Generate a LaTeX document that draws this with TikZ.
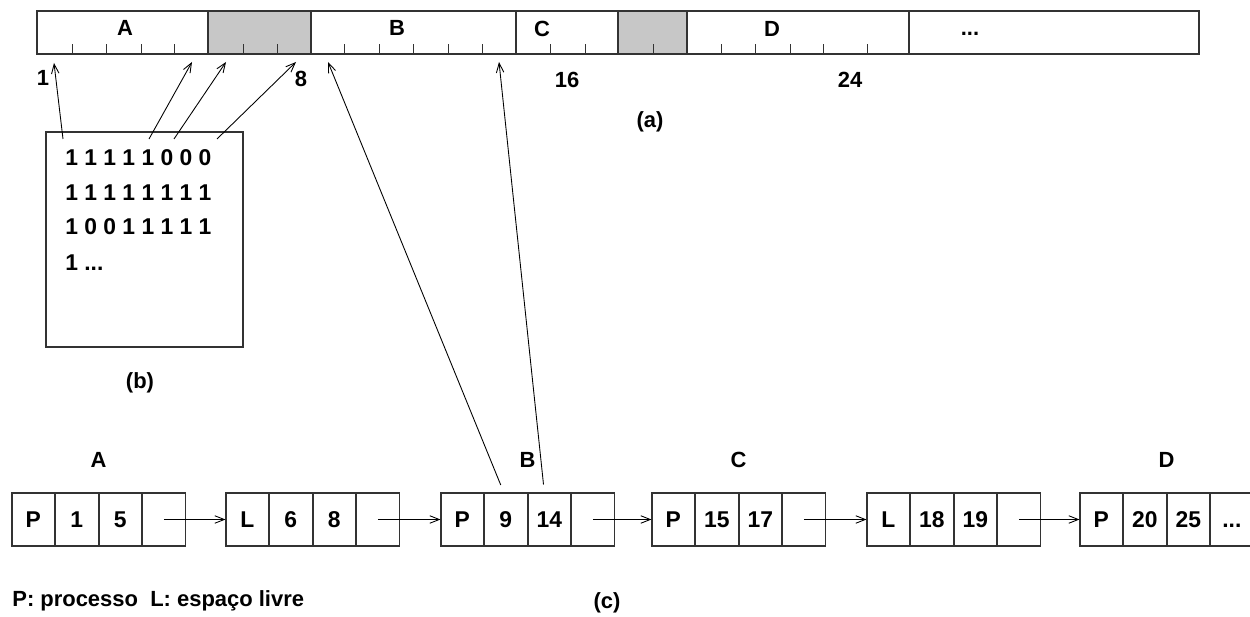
\documentclass[tikz,border=0pt]{standalone}
\usepackage{fontspec}
\setmainfont{Liberation Sans}
\usetikzlibrary{arrows.meta,positioning}
\definecolor{holegray}{gray}{0.78}
\definecolor{linegray}{gray}{0.2}

\tikzset{
  lbl/.style={font=\fontsize{12.5}{14}\selectfont\bfseries, inner sep=0pt},
  bits/.style={font=\fontsize{13}{15}\selectfont\bfseries, inner sep=0pt, anchor=west},
  cell/.style={draw=linegray, line width=0.6pt, minimum width=0.85cm, minimum height=1.06cm,
    inner sep=0pt, text height=9.4pt, text depth=0pt, font=\fontsize{13}{15}\selectfont\bfseries},
  link/.style={-{Straight Barb[length=1.9mm,width=1.5mm]}, line width=0.5pt},
}

\begin{document}
\begin{tikzpicture}[x=0.02cm, y=-0.02cm]
  \useasboundingbox (0,0) rectangle (1250,617);

  % (a) the memory strip
  \fill[holegray] (208,11) rectangle (311,54);
  \fill[holegray] (618,11) rectangle (687,54);
  \draw[linegray, line width=0.9pt] (37,11) rectangle (1199,54);
  \foreach \x in {208,311,516,618,687,909}
    \draw[linegray, line width=0.9pt] (\x,11) -- (\x,54);
  \foreach \x in {72,106,141,174,243,277,344,379,413,448,482,550,585,653,721,755,790,823,867}
    \draw[linegray] (\x,54) -- (\x,44);

  \node[lbl] (segA) at (125,28) {A};
  \node[lbl] (segB) at (397,28) {B};
  \node[lbl] (segC) at (542,29) {C};
  \node[lbl] (segD) at (772,29) {D};
  \node[lbl] (segE) at (970,34) {...};

  \node[lbl] (n1) at (43,78) {1};
  \node[lbl] (n8) at (301,79) {8};
  \node[lbl] (n16) at (567,80) {16};
  \node[lbl] (n24) at (850,80) {24};
  \node[lbl] (capa) at (650,122) {(a)};

  % unit positions just under the strip
  \coordinate (u1) at (54,63);
  \coordinate (u5) at (192,62);
  \coordinate (u6) at (226,62);
  \coordinate (u8) at (296,62);
  \coordinate (u9) at (328,62);
  \coordinate (u14) at (499,62);

  % (b) the bitmap
  \node[draw=linegray, line width=0.7pt, minimum width=3.94cm, minimum height=4.3cm] (bmap) at (144.5,239.5) {};
  \node[bits] (row1) at (65,158) {1 1 1 1 1 0 0 0};
  \node[bits] (row2) at (65,193) {1 1 1 1 1 1 1 1};
  \node[bits] (row3) at (65,227) {1 0 0 1 1 1 1 1};
  \node[bits] (row4) at (65,263) {1 ...};
  \node[lbl] (capb) at (140,383) {(b)};

  \coordinate (bit1) at (63,139);
  \coordinate (bit5) at (149,139);
  \coordinate (bit6) at (174,139);
  \coordinate (bit8) at (217,139);
  \draw[link] (bit1) -- (u1);
  \draw[link] (bit5) -- (u5);
  \draw[link] (bit6) -- (u6);
  \draw[link] (bit8) -- (u8);

  % (c) the list
  \foreach \r/\x/\t/\s/\e/\l in {ra/12/P/1/5/{}, rf/226/L/6/8/{}, rb/441/P/9/14/{},
      rc/652/P/15/17/{}, rg/867/L/18/19/{}, rd/1080/P/20/25/{...}} {
    \node[cell] (\r1) at (\x+21.25,519.5) {\t};
    \node[cell, right=0pt of \r1] (\r2) {\s};
    \node[cell, right=0pt of \r2] (\r3) {\e};
    \node[cell, right=0pt of \r3] (\r4) {\l};
  }
  \foreach \p/\q in {ra/rf, rf/rb, rb/rc, rc/rg, rg/rd}
    \draw[link] (\p4.center) -- (\q1.west);

  \node[lbl] (la) at ([yshift=0.66cm]ra2.north east) {A};
  \node[lbl] (lb) at ([yshift=0.66cm]rb2.north east) {B};
  \node[lbl] (lc) at ([yshift=0.66cm]rc2.north east) {C};
  \node[lbl] (ld) at ([yshift=0.66cm]rd2.north east) {D};

  \draw[link, shorten <=1.6mm] ([xshift=-0.04cm]rb2.north) -- (u9);
  \draw[link, shorten <=1.6mm] ([xshift=-0.1cm]rb3.north) -- (u14);

  \node[lbl, anchor=west] (legend) at (12,601) {P: processo\ \ L: espaço livre};
  \node[lbl] (capc) at (607,603) {(c)};
\end{tikzpicture}
\end{document}
